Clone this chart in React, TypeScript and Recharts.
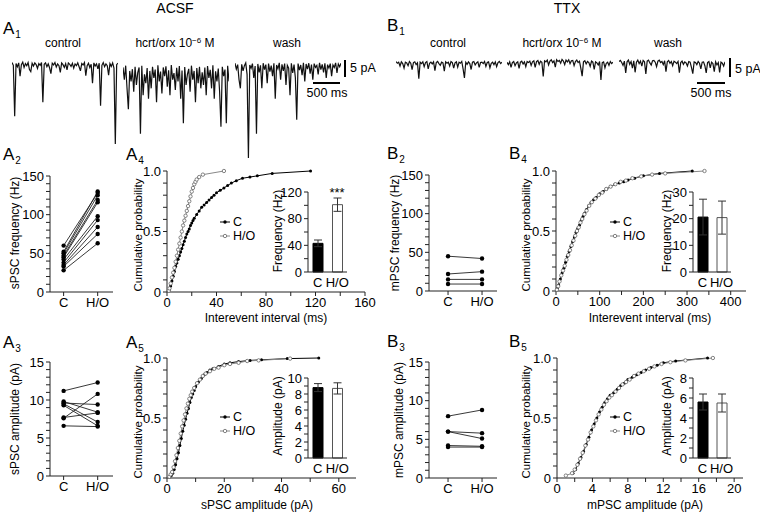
import React from 'react'
import { LineChart, Line, XAxis, YAxis, BarChart, Bar, Cell, ErrorBar } from 'recharts'

// ---- A1 / B1 current traces (pA, one sample every 25 ms) ----
const acsfControl = [
  -0.6, -1.4, -16, -0.9, -1.8, -0.7, -4.5, -1.2, -0.5, -2.0,
  -0.9, -1.5, -0.6, -2.6, -3.2, -0.8, -1.6, -0.7, -1.2, -2.3,
  -0.9, -1.4, -0.6, -12, -1.1, -0.7, -1.8, -1.0, -2.1, -3.8,
  -0.8, -1.3, -0.6, -1.9, -1.0, -1.5, -3.4, -0.7, -1.2, -2.0,
  -0.9, -2.7, -0.7, -1.1, -1.7, -0.8, -2.2, -1.0, -1.5, -0.7,
  -1.8, -3.0, -0.9, -1.3, -0.6, -4.4, -1.5, -0.8, -2.0, -1.1,
  -6.5, -0.7, -1.6, -1.0, -2.4, -0.8, -13, -1.4, -0.6, -1.8,
  -1.0, -1.5, -4.2, -0.9, -1.7, -0.7, -2.2, -24, -1.2, -0.8,
]
const acsfHcrt = [
  -2.0, -5.5, -1.5, -8.0, -14, -3.0, -6.0, -2.5, -9.0, -1.8,
  -7.0, -3.5, -2.0, -21, -1.5, -10, -4.0, -6.5, -2.2, -11,
  -3.0, -8.0, -1.8, -5.0, -2.6, -12, -1.4, -6.0, -3.2, -9.5,
  -2.0, -4.5, -1.7, -7.5, -2.8, -10, -1.3, -5.5, -3.6, -8.5,
  -2.1, -6.0, -1.6, -11, -2.9, -18, -1.9, -7.0, -4.0, -2.4,
  -9.0, -1.5, -5.5, -3.0, -12, -2.2, -6.5, -1.8, -8.0, -3.4,
  -7.0, -2.0, -10, -1.6, -5.0, -2.7, -8.0, -1.4, -11, -3.1,
  -6.0, -2.3, -9.0, -19, -1.8, -4.5, -2.6, -18, -1.5, -6.0,
]
const acsfWash = [
  -0.8, -2.5, -1.2, -5.5, -8.0, -1.1, -3.0, -1.5, -0.7, -4.0,
  -28, -1.3, -2.2, -0.9, -5.0, -1.6, -21, -1.0, -3.4, -1.4,
  -8.0, -0.8, -2.6, -1.2, -6.5, -0.9, -3.2, -1.5, -4.5, -0.8,
  -11, -1.3, -2.4, -0.7, -5.5, -1.1, -3.0, -0.9, -7.0, -1.4,
  -2.2, -10, -0.8, -3.6, -1.2, -5.0, -17, -0.9, -2.8, -1.3,
  -4.2, -0.7, -6.0, -1.0, -2.5, -0.8, -3.8, -1.2, -5.5, -0.9,
  -2.0, -1.4, -4.0, -0.7, -2.6, -1.1, -3.4, -0.8, -5.0, -1.2,
  -2.2, -0.9, -4.5, -1.3, -2.0, -0.7, -3.6, -1.0, -1.8, -0.8,
]
const ttxControl = [
  -0.3, -0.8, -0.5, -1.6, -0.4, -0.9, -2.2, -0.5, -0.7, -1.5,
  -0.3, -0.8, -2.6, -0.6, -0.4, -1.2, -0.7, -5.2, -0.5, -0.9,
  -0.4, -1.8, -0.6, -0.3, -2.4, -0.8, -0.5, -1.0, -0.4, -2.9,
  -0.6, -0.3, -0.9, -1.4, -0.5, -0.7, -3.1, -0.4, -0.8, -0.5,
  -1.6, -0.3, -0.6, -2.2, -0.7, -0.4, -1.9, -0.5, -0.8, -0.3,
  -2.4, -5.0, -0.5, -1.1, -0.4, -0.9, -2.6, -0.5, -0.3, -1.3,
  -0.7, -0.4, -2.0, -0.6, -0.5, -0.9, -0.3, -1.7, -0.6, -0.4,
  -2.1, -0.8, -0.5, -1.2, -0.4, -1.8, -0.6, -0.3, -0.9, -0.5,
]
const ttxHcrt = [
  -0.5, -1.2, -0.4, -2.0, -0.6, -0.3, -1.5, -0.7, -0.4, -2.3,
  -0.5, -0.2, -1.0, -0.4, -1.8, -0.3, -0.6, -0.2, -1.4, -0.4,
  -0.1, -2.0, -0.3, 0.0, -1.1, -0.2, -0.5, -4.6, -0.1, -0.4,
  0.1, -1.3, -0.2, 0.2, -0.6, -0.1, -1.9, 0.2, -0.3, 0.0,
  -0.8, 0.3, -0.2, -1.2, 0.1, -0.4, 0.2, -0.9, -0.1, 0.0,
  -1.5, -0.3, 0.1, -0.6, -0.2, -2.2, -4.5, -0.4, -0.1, -1.0,
  -0.3, -0.6, -1.7, -0.2, -0.5, -2.6, -0.4, -0.7, -1.3, -0.3,
  -5.6, -0.6, -0.4, -2.1, -0.8, -0.5, -1.4, -0.3, -0.9, -0.5,
]
const ttxWash = [
  -0.3, 0.0, -0.6, -1.4, -0.2, -3.6, -0.4, 0.1, -1.1, -0.3,
  -2.2, -0.1, -3.4, -0.5, 0.1, -0.9, -0.2, -1.6, 0.0, -0.4,
  -3.9, -0.2, 0.1, -0.7, -1.3, -0.1, 0.0, -0.5, -1.8, -0.2,
  0.1, -0.6, -0.3, -1.2, -0.1, -3.2, -0.4, 0.0, -0.8, -0.3,
  -1.5, -0.2, -0.5, -0.9, -0.3, -3.5, -0.6, -0.2, -1.1, -0.4,
  -0.7, -1.6, -0.3, -0.5, -2.0, -3.8, -0.4, -0.6, -1.2, -0.3,
  -0.8, -2.4, -0.5, -0.4, -1.5, -3.6, -0.6, -0.3, -2.1, -0.5,
  -0.9, -3.2, -0.4, -1.3, -0.6, -3.4, -0.5, -0.8, -1.6, -0.4,
]

// ---- paired cells (C vs H/O) ----
const groups = ['C', 'H/O']
const sFreqC = [60, 52, 50, 47, 45, 42, 38, 35, 33, 28]
const sFreqHO = [128, 130, 125, 119, 116, 98, 93, 84, 75, 63]
const sAmpC = [11.2, 9.8, 9.6, 9.5, 9.3, 7.7, 7.6, 6.6]
const sAmpHO = [12.3, 8.4, 9.4, 7.1, 6.6, 8.3, 10.8, 6.5]
const mFreqC = [45, 22, 15, 9]
const mFreqHO = [42, 25, 15, 9]
const mAmpC = [8.0, 6.0, 6.0, 4.2, 4.0]
const mAmpHO = [8.8, 5.8, 5.1, 4.1, 4.0]

// ---- inset means +/- sem ----
const sFreqMean = [43, 101]
const sFreqErr = [5, 10]
const sAmpMean = [8.8, 8.7]
const sAmpErr = [0.5, 0.7]
const mFreqMean = [20.6, 20.4]
const mFreqErr = [6.7, 6.2]
const mAmpMean = [5.6, 5.5]
const mAmpErr = [0.8, 0.9]

// ---- cumulative distributions ----
const sIeiC = [2, 3, 4, 5, 6, 7, 8, 9, 10, 11, 12, 13, 14, 15, 16, 17, 18, 19, 20, 21, 22, 24, 26, 28, 30, 32, 34, 36, 38, 40, 43, 46, 49, 52, 56, 61, 67, 73, 85, 116]
const sIeiCp = [0.02, 0.05, 0.09, 0.13, 0.17, 0.21, 0.24, 0.27, 0.3, 0.33, 0.36, 0.39, 0.42, 0.45, 0.48, 0.5, 0.52, 0.55, 0.57, 0.59, 0.61, 0.64, 0.67, 0.7, 0.72, 0.74, 0.76, 0.78, 0.8, 0.82, 0.84, 0.86, 0.88, 0.9, 0.92, 0.94, 0.95, 0.96, 0.98, 1.0]
const sIeiH = [1.5, 2, 3, 4, 5, 6, 7, 8, 9, 10, 11, 12, 13, 14, 15, 16, 17, 18, 19, 20, 21, 22, 23, 24, 26, 29, 46]
const sIeiHp = [0.01, 0.03, 0.07, 0.12, 0.16, 0.2, 0.25, 0.3, 0.35, 0.4, 0.45, 0.5, 0.55, 0.59, 0.63, 0.67, 0.71, 0.75, 0.79, 0.83, 0.86, 0.89, 0.91, 0.93, 0.95, 0.97, 1.0]

const sAmpCx = [1, 1.5, 2, 2.5, 3, 3.5, 4, 4.5, 5, 5.5, 6, 6.5, 7, 7.5, 8, 8.5, 9, 9.5, 10, 11, 12, 13, 14, 15, 16, 18, 20, 22, 25, 29, 33, 42, 53]
const sAmpCp = [0.01, 0.02, 0.04, 0.07, 0.11, 0.16, 0.21, 0.27, 0.33, 0.39, 0.44, 0.49, 0.54, 0.58, 0.63, 0.67, 0.7, 0.73, 0.76, 0.8, 0.83, 0.86, 0.88, 0.9, 0.91, 0.93, 0.95, 0.96, 0.97, 0.98, 0.985, 0.995, 1.0]
const sAmpHx = [0.8, 1.3, 1.8, 2.3, 2.8, 3.3, 3.8, 4.3, 4.8, 5.3, 5.8, 6.3, 6.8, 7.3, 7.8, 8.3, 8.8, 9.5, 10.5, 11.5, 12.5, 13.5, 15, 16.5, 18, 20, 22, 25, 28, 32, 43]
const sAmpHp = [0.01, 0.03, 0.05, 0.09, 0.14, 0.19, 0.25, 0.31, 0.37, 0.43, 0.48, 0.53, 0.58, 0.62, 0.66, 0.69, 0.72, 0.75, 0.79, 0.82, 0.85, 0.87, 0.89, 0.91, 0.92, 0.94, 0.95, 0.96, 0.975, 0.98, 0.995]

const mIeiC = [3, 6, 10, 14, 18, 22, 26, 30, 34, 38, 42, 46, 50, 54, 58, 62, 66, 70, 75, 80, 86, 92, 100, 108, 116, 125, 135, 145, 155, 165, 180, 200, 237, 312]
const mIeiCp = [0.02, 0.05, 0.1, 0.15, 0.19, 0.24, 0.29, 0.33, 0.37, 0.41, 0.45, 0.49, 0.52, 0.55, 0.59, 0.62, 0.65, 0.68, 0.71, 0.735, 0.76, 0.78, 0.81, 0.83, 0.85, 0.87, 0.89, 0.9, 0.91, 0.925, 0.94, 0.96, 0.98, 1.0]
const mIeiH = [2, 5, 8, 12, 16, 20, 24, 28, 32, 36, 40, 44, 48, 52, 56, 60, 65, 70, 76, 82, 90, 98, 106, 115, 125, 136, 148, 160, 175, 195, 220, 250, 340]
const mIeiHp = [0.01, 0.04, 0.08, 0.13, 0.17, 0.21, 0.26, 0.3, 0.34, 0.38, 0.42, 0.46, 0.5, 0.53, 0.57, 0.6, 0.64, 0.67, 0.71, 0.74, 0.77, 0.8, 0.82, 0.85, 0.87, 0.89, 0.91, 0.92, 0.94, 0.955, 0.97, 0.98, 1.0]

const mAmpCx = [1.8, 2.1, 2.4, 2.7, 3.0, 3.3, 3.6, 3.9, 4.2, 4.5, 4.8, 5.1, 5.4, 5.7, 6.0, 6.4, 6.8, 7.2, 7.6, 8.0, 8.5, 9.0, 9.5, 10.0, 10.6, 11.3, 12.0, 13.4, 17.0]
const mAmpCp = [0.04, 0.07, 0.12, 0.17, 0.22, 0.28, 0.34, 0.4, 0.45, 0.5, 0.55, 0.59, 0.63, 0.66, 0.69, 0.71, 0.74, 0.77, 0.79, 0.82, 0.84, 0.86, 0.88, 0.9, 0.92, 0.94, 0.96, 0.975, 1.0]
const mAmpHx = [1.0, 1.7, 2.0, 2.3, 2.6, 2.9, 3.2, 3.5, 3.8, 4.1, 4.4, 4.7, 5.0, 5.3, 5.6, 5.9, 6.2, 6.6, 7.0, 7.4, 7.8, 8.2, 8.7, 9.2, 9.8, 10.4, 11.0, 11.8, 12.8, 14.5, 17.6]
const mAmpHp = [0.02, 0.04, 0.07, 0.11, 0.16, 0.21, 0.27, 0.32, 0.38, 0.43, 0.48, 0.53, 0.57, 0.61, 0.64, 0.67, 0.69, 0.72, 0.75, 0.78, 0.8, 0.82, 0.85, 0.87, 0.89, 0.91, 0.93, 0.95, 0.965, 0.98, 1.0]

// ---- tick sets ----
const probTicks = [0, 0.1, 0.2, 0.3, 0.4, 0.5, 0.6, 0.7, 0.8, 0.9, 1]
const freqTicks = [0, 10, 20, 30, 40, 50, 60, 70, 80, 90, 100, 110, 120, 130, 140, 150]
const ampTicks = [0, 1, 2, 3, 4, 5, 6, 7, 8, 9, 10, 11, 12, 13, 14, 15]
const sIeiTicks = [0, 20, 40, 60, 80, 100, 120, 140, 160]
const sAmpTicks = [0, 10, 20, 30, 40, 50, 60]
const mIeiTicks = [0, 50, 100, 150, 200, 250, 300, 350, 400]
const mAmpTicks = [0, 2, 4, 6, 8, 10, 12, 14, 16, 18, 20]
const sFreqBarTicks = [0, 20, 40, 60, 80, 100, 120]
const sAmpBarTicks = [0, 1, 2, 3, 4, 5, 6, 7, 8, 9, 10]
const mFreqBarTicks = [0, 5, 10, 15, 20, 25, 30]
const mAmpBarTicks = [0, 1, 2, 3, 4, 5, 6, 7, 8]

const FONT = '"Liberation Sans", Arial, Helvetica, sans-serif'
const LEFT = 44
const TOP = 8
const RIGHT = 18
const BOTTOM = 26
const TRACE_TOP = 50

const axis = {
  stroke: '#222',
  tick: { fill: '#000', fontSize: 13 },
  tickSize: 4,
  interval: 0 as const,
}

const every = (step: number) => (v: number) =>
  Math.abs(v / step - Math.round(v / step)) < 1e-6 ? String(v) : ''
const probFmt = (v: number) => (v === 0 ? '0' : v === 0.5 ? '0.5' : v === 1 ? '1.0' : '')

function place(px: number, py: number, pw: number, ph: number) {
  return {
    style: { position: 'absolute' as const, left: px - LEFT, top: py - TOP },
    width: pw + LEFT + RIGHT,
    height: ph + TOP + BOTTOM,
    margin: { top: TOP, right: RIGHT, bottom: 0, left: 0 },
  }
}

const zip = (xs: number[], ys: number[]) => xs.map((x, i) => ({ x, y: ys[i] }))

function T({ x, y, size = 12, rot = 0, children }: any) {
  return (
    <div
      style={{
        position: 'absolute',
        left: x,
        top: y,
        transform: `translate(-50%, -50%) rotate(${rot}deg)`,
        fontSize: size,
        lineHeight: 1,
        whiteSpace: 'nowrap',
      }}
    >
      {children}
    </div>
  )
}

function PanelLabel({ x, y, l, n }: any) {
  return (
    <div style={{ position: 'absolute', left: x, top: y, fontSize: 17, lineHeight: '17px', whiteSpace: 'nowrap' }}>
      {l}
      <span style={{ fontSize: 10, position: 'relative', top: 4, marginLeft: 1 }}>{n}</span>
    </div>
  )
}

function Trace({ x, values }: { x: number; values: number[] }) {
  const data = values.map((v, i) => ({ i, v }))
  return (
    <div style={{ position: 'absolute', left: x, top: TRACE_TOP }}>
      <LineChart width={106} height={115} data={data} margin={{ top: 0, right: 0, bottom: 0, left: 0 }}>
        <XAxis type="number" dataKey="i" domain={[0, values.length - 1]} hide />
        <YAxis type="number" domain={[-30, 3]} hide />
        <Line dataKey="v" stroke="#111" strokeWidth={1.2} dot={false} isAnimationActive={false} />
      </LineChart>
    </div>
  )
}

function ScaleBar({ vx, vy, vh, hx, hy, hw }: any) {
  return (
    <>
      <div style={{ position: 'absolute', left: vx, top: vy, width: 1.5, height: vh, background: '#000' }} />
      <div style={{ position: 'absolute', left: hx, top: hy, width: hw, height: 1.5, background: '#000' }} />
    </>
  )
}

function Pair({ px, py, pw, ph, xDomain, yMax, yTicks, yStep, c, h }: any) {
  const rows: any[] = [{ x: 0 }, { x: 1 }]
  c.forEach((v: number, i: number) => {
    rows[0]['s' + i] = v
    rows[1]['s' + i] = h[i]
  })
  const b = place(px, py, pw, ph)
  return (
    <div style={b.style}>
      <LineChart width={b.width} height={b.height} margin={b.margin} data={rows}>
        <XAxis type="number" dataKey="x" domain={xDomain} ticks={[0, 1]}
          tickFormatter={(v: number) => groups[v]} height={BOTTOM} {...axis} />
        <YAxis type="number" domain={[0, yMax]} ticks={yTicks}
          tickFormatter={every(yStep)} width={LEFT} {...axis} />
        {c.map((_: number, i: number) => (
          <Line key={i} dataKey={'s' + i} stroke="#222" strokeWidth={0.9}
            dot={{ r: 2.2, fill: '#000', stroke: 'none' }} isAnimationActive={false} />
        ))}
      </LineChart>
    </div>
  )
}

function Cum({ px, py, pw, ph, xMax, xTicks, xStep, c, h }: any) {
  const b = place(px, py, pw, ph)
  return (
    <div style={b.style}>
      <LineChart width={b.width} height={b.height} margin={b.margin}>
        <XAxis type="number" dataKey="x" domain={[0, xMax]} ticks={xTicks}
          tickFormatter={every(xStep)} height={BOTTOM} {...axis} />
        <YAxis type="number" domain={[0, 1]} ticks={probTicks}
          tickFormatter={probFmt} width={LEFT} {...axis} />
        <Line data={c} dataKey="y" stroke="#000" strokeWidth={1}
          dot={{ r: 1.5, fill: '#000', stroke: 'none' }} isAnimationActive={false} />
        <Line data={h} dataKey="y" stroke="#888" strokeWidth={1}
          dot={{ r: 1.7, fill: '#fff', stroke: '#666', strokeWidth: 0.8 }} isAnimationActive={false} />
      </LineChart>
    </div>
  )
}

function Inset({ px, py, pw, ph, yMax, yTicks, yStep, mean, err }: any) {
  const data = groups.map((g, i) => ({ g, v: mean[i], e: err[i] }))
  const b = place(px, py, pw, ph)
  return (
    <div style={b.style}>
      <BarChart width={b.width} height={b.height} margin={b.margin} data={data}>
        <XAxis dataKey="g" height={BOTTOM} {...axis} tickLine={false} tick={{ fill: '#000', fontSize: 13 }} />
        <YAxis type="number" domain={[0, yMax]} ticks={yTicks}
          tickFormatter={every(yStep)} width={LEFT} {...axis} />
        <Bar dataKey="v" barSize={10} isAnimationActive={false}>
          {data.map((_, i) => (
            <Cell key={i} fill={i === 0 ? '#000' : '#fff'} stroke={i === 0 ? '#000' : '#555'} />
          ))}
          <ErrorBar dataKey="e" width={4} stroke="#333" strokeWidth={1} />
        </Bar>
      </BarChart>
    </div>
  )
}

function Key({ x, y }: { x: number; y: number }) {
  const row = { display: 'flex', alignItems: 'center', height: 14 }
  return (
    <div style={{ position: 'absolute', left: x, top: y - 7, fontSize: 12.5, lineHeight: '14px', whiteSpace: 'nowrap' }}>
      <div style={row}>
        <svg width={10} height={6}>
          <line x1={0} y1={3} x2={10} y2={3} stroke="#000" strokeWidth={1} />
          <circle cx={5} cy={3} r={1.7} fill="#000" />
        </svg>
        <span style={{ marginLeft: 3 }}>C</span>
      </div>
      <div style={row}>
        <svg width={10} height={6}>
          <line x1={0} y1={3} x2={10} y2={3} stroke="#888" strokeWidth={1} />
          <circle cx={5} cy={3} r={1.7} fill="#fff" stroke="#666" strokeWidth={0.8} />
        </svg>
        <span style={{ marginLeft: 3 }}>H/O</span>
      </div>
    </div>
  )
}

const hcrt = (
  <>
    hcrt/orx 10<sup style={{ fontSize: 8, verticalAlign: 4 }}>−6</sup> M
  </>
)

const scaleText = { position: 'absolute' as const, fontSize: 12.5, lineHeight: 1, whiteSpace: 'nowrap' as const }

export default function App() {
  return (
    <div
      style={{
        position: 'absolute',
        left: 0,
        top: 0,
        width: 760,
        height: 514,
        background: '#fff',
        fontFamily: FONT,
        color: '#000',
        overflow: 'hidden',
      }}
    >
      <T x={175} y={8} size={14}>ACSF</T>
      <T x={567} y={8} size={14}>TTX</T>

      <PanelLabel x={3} y={20} l="A" n="1" />
      <PanelLabel x={387} y={17} l="B" n="1" />
      <PanelLabel x={3} y={146} l="A" n="2" />
      <PanelLabel x={126} y={146} l="A" n="4" />
      <PanelLabel x={387} y={145} l="B" n="2" />
      <PanelLabel x={509} y={145} l="B" n="4" />
      <PanelLabel x={3} y={334} l="A" n="3" />
      <PanelLabel x={126} y={334} l="A" n="5" />
      <PanelLabel x={387} y={333} l="B" n="3" />
      <PanelLabel x={509} y={333} l="B" n="5" />

      {/* A1 / B1 traces */}
      <T x={63} y={43}>control</T>
      <T x={175} y={43}>{hcrt}</T>
      <T x={287} y={43}>wash</T>
      <Trace x={12} values={acsfControl} />
      <Trace x={123} values={acsfHcrt} />
      <Trace x={235} values={acsfWash} />
      <ScaleBar vx={344} vy={60} vh={17} hx={313} hy={82} hw={27} />
      <div style={{ ...scaleText, left: 350, top: 62 }}>5 pA</div>
      <T x={327} y={93} size={12.5}>500 ms</T>

      <T x={448} y={43}>control</T>
      <T x={562} y={43}>{hcrt}</T>
      <T x={668} y={43}>wash</T>
      <Trace x={396} values={ttxControl} />
      <Trace x={507} values={ttxHcrt} />
      <Trace x={619} values={ttxWash} />
      <ScaleBar vx={729} vy={58} vh={19} hx={697} hy={82} hw={28} />
      <div style={{ ...scaleText, left: 735, top: 63 }}>5 pA</div>
      <T x={711} y={93} size={12.5}>500 ms</T>

      {/* A2 / A3 */}
      <Pair px={50} py={176} pw={63} ph={116} xDomain={[-0.4, 1.45]} yMax={150}
        yTicks={freqTicks} yStep={50} c={sFreqC} h={sFreqHO} />
      <T x={15} y={233} rot={-90}>sPSC frequency (Hz)</T>
      <Pair px={50} py={362} pw={63} ph={114} xDomain={[-0.4, 1.45]} yMax={15}
        yTicks={ampTicks} yStep={5} c={sAmpC} h={sAmpHO} />
      <T x={15} y={419} rot={-90}>sPSC amplitude (pA)</T>

      {/* B2 / B3 */}
      <Pair px={429} py={175} pw={68} ph={116} xDomain={[-0.56, 1.44]} yMax={150}
        yTicks={freqTicks} yStep={50} c={mFreqC} h={mFreqHO} />
      <T x={395} y={233} rot={-90}>mPSC frequency (Hz)</T>
      <Pair px={429} py={362} pw={68} ph={116} xDomain={[-0.56, 1.44]} yMax={15}
        yTicks={ampTicks} yStep={5} c={mAmpC} h={mAmpHO} />
      <T x={399} y={420} rot={-90}>mPSC amplitude (pA)</T>

      {/* A4 */}
      <Cum px={167} py={171} pw={198} ph={121} xMax={160} xTicks={sIeiTicks} xStep={40}
        c={zip(sIeiC, sIeiCp)} h={zip(sIeiH, sIeiHp)} />
      <T x={139} y={235} size={11.5} rot={-90}>Cumulative probability</T>
      <T x={266} y={318}>Interevent interval (ms)</T>
      <Key x={220} y={222} />
      <Inset px={307.5} py={192} pw={39} ph={80} yMax={120} yTicks={sFreqBarTicks} yStep={40}
        mean={sFreqMean} err={sFreqErr} />
      <T x={278} y={231} rot={-90}>Frequency (Hz)</T>
      <T x={337} y={192} size={13}>***</T>

      {/* A5 */}
      <Cum px={167} py={358} pw={189} ph={120} xMax={66} xTicks={sAmpTicks} xStep={20}
        c={zip(sAmpCx, sAmpCp)} h={zip(sAmpHx, sAmpHp)} />
      <T x={139} y={422} size={11.5} rot={-90}>Cumulative probability</T>
      <T x={257} y={505}>sPSC amplitude (pA)</T>
      <Key x={220} y={417} />
      <Inset px={307.5} py={378} pw={39} ph={80} yMax={10} yTicks={sAmpBarTicks} yStep={2}
        mean={sAmpMean} err={sAmpErr} />
      <T x={278} y={416} rot={-90}>Amplitude (pA)</T>

      {/* B4 */}
      <Cum px={556} py={171} pw={190} ph={120} xMax={435} xTicks={mIeiTicks} xStep={100}
        c={zip(mIeiC, mIeiCp)} h={zip(mIeiH, mIeiHp)} />
      <T x={527} y={235} size={11.5} rot={-90}>Cumulative probability</T>
      <T x={650} y={318}>Interevent interval (ms)</T>
      <Key x={610} y={222} />
      <Inset px={693} py={192} pw={38} ph={80} yMax={30} yTicks={mFreqBarTicks} yStep={10}
        mean={mFreqMean} err={mFreqErr} />
      <T x={667} y={231} rot={-90}>Frequency (Hz)</T>

      {/* B5 */}
      <Cum px={557} py={358} pw={186} ph={120} xMax={21} xTicks={mAmpTicks} xStep={4}
        c={zip(mAmpCx, mAmpCp)} h={zip(mAmpHx, mAmpHp)} />
      <T x={527} y={422} size={11.5} rot={-90}>Cumulative probability</T>
      <T x={645} y={505}>mPSC amplitude (pA)</T>
      <Key x={610} y={417} />
      <Inset px={693} py={378} pw={38} ph={80} yMax={8} yTicks={mAmpBarTicks} yStep={2}
        mean={mAmpMean} err={mAmpErr} />
      <T x={667} y={416} rot={-90}>Amplitude (pA)</T>
    </div>
  )
}
